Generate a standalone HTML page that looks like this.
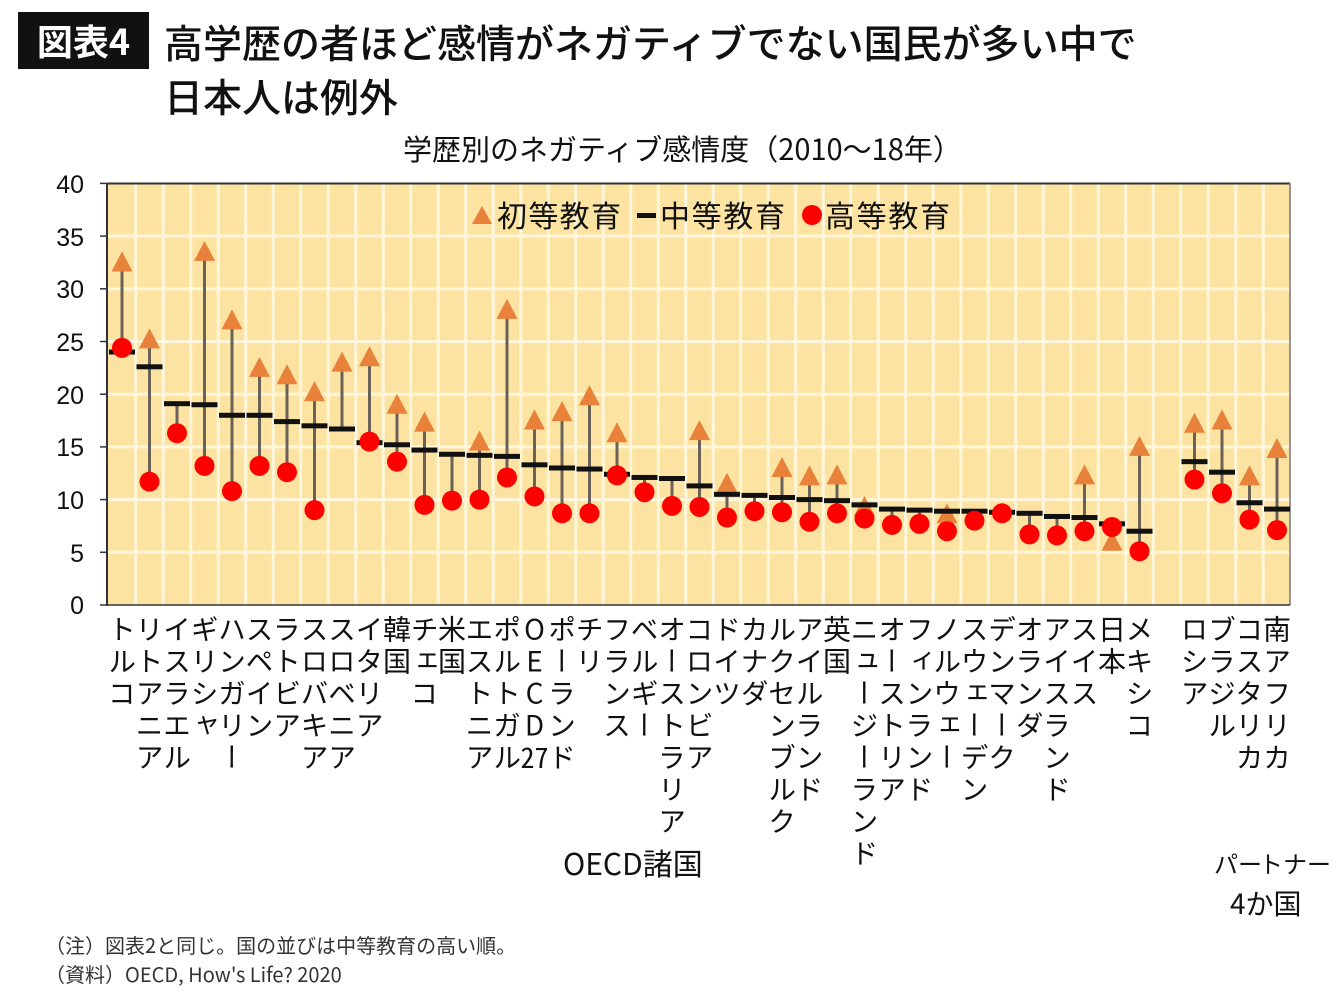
<!DOCTYPE html>
<html><head><meta charset="utf-8">
<style>
body{margin:0;background:#fff;width:1340px;height:1000px;overflow:hidden;position:relative;font-family:"Liberation Sans","Noto Sans CJK JP",sans-serif;color:#111}
.abs{position:absolute;white-space:nowrap}
.lbl{position:absolute;top:615px;width:32px;writing-mode:vertical-rl;text-orientation:upright;font-size:28px;line-height:32px;letter-spacing:4px;font-family:"Noto Sans CJK JP",sans-serif;color:#111}
.tcy{text-combine-upright:all}
</style></head><body>
<div class="abs" style="left:18px;top:12px;width:131px;height:57px;background:#111;color:#fff;font-size:36px;font-weight:bold;line-height:57px;text-align:center;font-family:'Noto Sans CJK JP',sans-serif">図表4</div>
<div class="abs" style="left:164px;top:16px;font-size:39px;line-height:52px;font-family:'Noto Sans CJK JP',sans-serif;font-weight:500">高学歴の者ほど感情がネガティブでない国民が多い中で</div>
<div class="abs" style="left:164px;top:70px;font-size:39px;line-height:52px;font-family:'Noto Sans CJK JP',sans-serif;font-weight:500">日本人は例外</div>
<div class="abs" style="left:403px;top:129px;font-size:29px;line-height:38px;font-family:'Noto Sans CJK JP',sans-serif">学歴別のネガティブ感情度（2010～18年）</div>

<svg id="ch" class="abs" style="left:0;top:0" width="1340" height="1000" xmlns="http://www.w3.org/2000/svg">
<rect x="107" y="183" width="1183" height="422" fill="#FCE3A2"/>
<g id="grid" stroke="#FFF6DC" stroke-width="3"></g>
<line x1="107" y1="183.5" x2="1290" y2="183.5" stroke="#333" stroke-width="2"/>
<line x1="1290" y1="183" x2="1290" y2="605" stroke="#777" stroke-width="1.5"/>
<line x1="107" y1="605" x2="1290" y2="605" stroke="#333" stroke-width="1.5"/>
<line x1="107" y1="183" x2="107" y2="606" stroke="#333" stroke-width="2"/>
<g id="ticks" stroke="#333" stroke-width="1.5"></g>
<g font-family="Liberation Sans, sans-serif" font-size="25" text-anchor="end" fill="#111">
<text x="84" y="193">40</text><text x="84" y="246">35</text><text x="84" y="298">30</text><text x="84" y="351">25</text><text x="84" y="404">20</text><text x="84" y="456">15</text><text x="84" y="509">10</text><text x="84" y="562">5</text><text x="84" y="614">0</text>
</g>
<g id="series"></g>
<g font-family="Noto Sans CJK JP, sans-serif" font-size="30" fill="#111">
<polygon points="482,206 492,224 472,224" fill="#E8823A"/>
<text x="497" y="227" textLength="124">初等教育</text>
<rect x="637" y="213" width="19" height="5" fill="#111"/>
<text x="660" y="227" textLength="125">中等教育</text>
<circle cx="812" cy="215" r="10" fill="#F00"/>
<text x="825" y="227" textLength="125">高等教育</text>
</g>
</svg>

<div class="lbl" style="left:106px">トルコ</div>
<div class="lbl" style="left:133.5px">リトアニア</div>
<div class="lbl" style="left:161px">イスラエル</div>
<div class="lbl" style="left:188.5px">ギリシャ</div>
<div class="lbl" style="left:216px">ハンガリー</div>
<div class="lbl" style="left:243.5px">スペイン</div>
<div class="lbl" style="left:271px">ラトビア</div>
<div class="lbl" style="left:298.5px">スロバキア</div>
<div class="lbl" style="left:326px">スロベニア</div>
<div class="lbl" style="left:353.5px">イタリア</div>
<div class="lbl" style="left:381px">韓国</div>
<div class="lbl" style="left:408.5px">チェコ</div>
<div class="lbl" style="left:436px">米国</div>
<div class="lbl" style="left:463.5px">エストニア</div>
<div class="lbl" style="left:491px">ポルトガル</div>
<div class="lbl" style="left:518.5px">OECD<span class="tcy">27</span></div>
<div class="lbl" style="left:546px">ポーランド</div>
<div class="lbl" style="left:573.5px">チリ</div>
<div class="lbl" style="left:601px">フランス</div>
<div class="lbl" style="left:628.5px">ベルギー</div>
<div class="lbl" style="left:656px">オーストラリア</div>
<div class="lbl" style="left:683.5px">コロンビア</div>
<div class="lbl" style="left:711px">ドイツ</div>
<div class="lbl" style="left:738.5px">カナダ</div>
<div class="lbl" style="left:766px">ルクセンブルク</div>
<div class="lbl" style="left:793.5px">アイルランド</div>
<div class="lbl" style="left:821px">英国</div>
<div class="lbl" style="left:848.5px">ニュージーランド</div>
<div class="lbl" style="left:876px">オーストリア</div>
<div class="lbl" style="left:903.5px">フィンランド</div>
<div class="lbl" style="left:931px">ノルウェー</div>
<div class="lbl" style="left:958.5px">スウェーデン</div>
<div class="lbl" style="left:986px">デンマーク</div>
<div class="lbl" style="left:1013.5px">オランダ</div>
<div class="lbl" style="left:1041px">アイスランド</div>
<div class="lbl" style="left:1068.5px">スイス</div>
<div class="lbl" style="left:1096px">日本</div>
<div class="lbl" style="left:1123.5px">メキシコ</div>
<div class="lbl" style="left:1178.5px">ロシア</div>
<div class="lbl" style="left:1206px">ブラジル</div>
<div class="lbl" style="left:1233.5px">コスタリカ</div>
<div class="lbl" style="left:1261px">南アフリカ</div>

<div class="abs" style="left:563px;top:843px;font-size:30px;line-height:38px;font-family:'Noto Sans CJK JP',sans-serif">OECD諸国</div>
<div class="abs" style="left:1214px;top:845px;font-size:24px;line-height:36px;font-family:'Noto Sans CJK JP',sans-serif">パ<span style="letter-spacing:-3px">ー</span>トナー</div>
<div class="abs" style="left:1230px;top:884px;font-size:28px;line-height:38px;font-family:'Noto Sans CJK JP',sans-serif">4か国</div>
<div class="abs" style="left:45px;top:931px;font-size:20px;line-height:28px;font-family:'Noto Sans CJK JP',sans-serif;color:#333">（注）図表2と同じ。国の並びは中等教育の高い順。</div>
<div class="abs" style="left:45px;top:960px;font-size:20px;line-height:28px;font-family:'Noto Sans CJK JP',sans-serif;color:#333">（資料）OECD, How's Life? 2020</div>

<script>
var NS="http://www.w3.org/2000/svg";
function el(p,t,a){var e=document.createElementNS(NS,t);for(var k in a)e.setAttribute(k,a[k]);p.appendChild(e);return e;}
function Y(v){return 605-10.54*v;}
function X(i){return 122+27.5*i;}
var g=document.getElementById('grid');
for(var k=0;k<43;k++){var x=108.25+27.5*k+27.5;if(x<1289)el(g,'line',{x1:x,y1:184,x2:x,y2:605});}
for(var v=5;v<40;v+=5)el(g,'line',{x1:107,y1:Y(v),x2:1290,y2:Y(v)});
var t=document.getElementById('ticks');
for(var v=0;v<=40;v+=5)el(t,'line',{x1:100,y1:Y(v),x2:107,y2:Y(v)});
var D=[[0,32.5,24.0,24.4],[1,25.2,22.6,11.7],[2,null,19.1,16.3],[3,33.5,19.0,13.2],[4,27.0,18.0,10.8],[5,22.5,18.0,13.2],[6,21.8,17.4,12.6],[7,20.2,17.0,9.0],[8,23.0,16.7,null],[9,23.5,15.4,15.5],[10,19.0,15.2,13.6],[11,17.3,14.7,9.5],[12,null,14.3,9.9],[13,15.5,14.2,10.0],[14,28.0,14.1,12.1],[15,17.5,13.3,10.3],[16,18.3,13.0,8.7],[17,19.8,12.9,8.7],[18,16.3,12.4,12.3],[19,null,12.1,10.7],[20,null,12.0,9.4],[21,16.5,11.3,9.3],[22,11.5,10.5,8.3],[23,null,10.4,8.9],[24,13.0,10.2,8.8],[25,12.2,10.0,7.9],[26,12.3,9.9,8.7],[27,9.3,9.5,8.2],[28,null,9.1,7.6],[29,null,9.0,7.7],[30,8.6,8.9,7.0],[31,null,8.9,8.0],[32,null,8.8,8.7],[33,null,8.7,6.7],[34,null,8.4,6.6],[35,12.3,8.3,7.0],[36,6.0,7.7,7.4],[37,15.0,7.0,5.1],[39,17.2,13.6,11.9],[40,17.5,12.6,10.6],[41,12.2,9.7,8.1],[42,14.8,9.1,7.1]];
var s=document.getElementById('series');
D.forEach(function(d){var x=X(d[0]);var vals=[d[1],d[2],d[3]].filter(function(v){return v!==null;});
var mx=Math.max.apply(null,vals),mn=Math.min.apply(null,vals);
el(s,'line',{x1:x,y1:Y(mx),x2:x,y2:Y(mn),stroke:'#6b6257','stroke-width':3});});
D.forEach(function(d){var x=X(d[0]);
if(d[1]!==null){var y=Y(d[1]);el(s,'polygon',{points:(x)+','+(y-11)+' '+(x+10.5)+','+(y+9)+' '+(x-10.5)+','+(y+9),fill:'#E8823A'});}
el(s,'rect',{x:x-13,y:Y(d[2])-2.5,width:26,height:5,fill:'#111'});
if(d[3]!==null)el(s,'circle',{cx:x,cy:Y(d[3]),r:10,fill:'#F00'});});
</script>
</body></html>
